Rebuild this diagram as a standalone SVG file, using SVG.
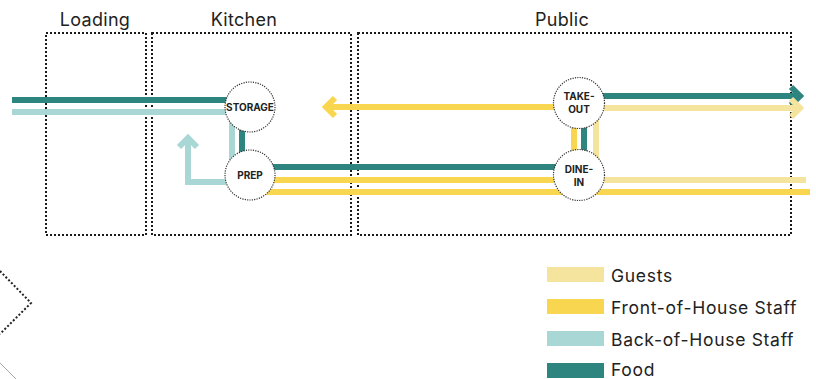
<svg xmlns="http://www.w3.org/2000/svg" width="816" height="379" viewBox="0 0 816 379">
<style>
.zone{fill:none;stroke:#1a1a1a;stroke-width:2;stroke-dasharray:2 2}
.zl{font-family:Inter,"Liberation Sans",sans-serif;font-size:18px;letter-spacing:0.3px;fill:#222;text-anchor:middle}
.food{stroke:#2E8580;stroke-width:6;fill:none}
.boh{stroke:#A9D7D5;stroke-width:6;fill:none}
.foh{stroke:#F9D650;stroke-width:6;fill:none}
.gst{stroke:#F5E49E;stroke-width:6;fill:none}
.node circle{fill:#fff;stroke:#333;stroke-width:1.2;stroke-dasharray:1.2 1.2}
.node text{font-family:Inter,"Liberation Sans",sans-serif;font-weight:bold;font-size:10px;fill:#222;text-anchor:middle}
.lg{font-family:Inter,"Liberation Sans",sans-serif;font-size:17.5px;letter-spacing:0.7px;fill:#222}
</style>
<g id="zones">
<rect class="zone" x="46" y="33" width="100" height="202"/>
<rect class="zone" x="152" y="33" width="199" height="202"/>
<rect class="zone" x="358" y="33" width="433" height="202"/>
<text class="zl" x="95" y="26">Loading</text>
<text class="zl" x="244" y="26">Kitchen</text>
<text class="zl" x="562" y="26">Public</text>
</g>
<g id="connectors">
<line class="food" x1="12" y1="100" x2="240" y2="100"/>
<line class="boh" x1="12" y1="112" x2="232" y2="112"/>
<polyline class="boh" points="232,112 232,160"/>
<line class="food" x1="242" y1="120" x2="242" y2="160"/>
<polyline class="boh" points="235,182 188,182 188,140"/>
<polyline class="boh" points="179,147 188,138 197,147"/>
<line class="food" x1="260" y1="167" x2="570" y2="167"/>
<line class="foh" x1="260" y1="180" x2="570" y2="180"/>
<line class="foh" x1="260" y1="192" x2="810" y2="192"/>
<line class="gst" x1="590" y1="180" x2="806" y2="180"/>
<line class="foh" x1="570" y1="107" x2="328" y2="107"/>
<polyline class="foh" points="335,98 326,107 335,116"/>
<line class="food" x1="590" y1="96" x2="799" y2="96"/>
<polyline class="food" points="791,87 800,96 791,105"/>
<line class="gst" x1="590" y1="108" x2="799" y2="108"/>
<polyline class="gst" points="791,99 800,108 791,117"/>
<line class="foh" x1="574" y1="115" x2="574" y2="165"/>
<line class="food" x1="584" y1="115" x2="584" y2="165"/>
<line class="gst" x1="596" y1="115" x2="596" y2="165"/>
</g>
<g id="storage" class="node"><circle cx="250" cy="107" r="25"/><text x="250" y="110.5" font-size="9">STORAGE</text></g>
<g id="prep" class="node"><circle cx="250" cy="175" r="25"/><text x="250" y="178.5">PREP</text></g>
<g id="takeout" class="node"><circle cx="579" cy="103" r="25.5"/><text x="579" y="100">TAKE-</text><text x="579" y="113">OUT</text></g>
<g id="dinein" class="node"><circle cx="579" cy="175" r="25.5"/><text x="579" y="173">DINE-</text><text x="579" y="186">IN</text></g>
<g id="decor">
<polyline points="0,271 31,303 0,334" fill="none" stroke="#222" stroke-width="2" stroke-dasharray="2 2"/>
<line x1="0" y1="363" x2="16" y2="379" stroke="#aaa" stroke-width="1"/>
</g>
<g id="legend">
<rect x="547" y="267" width="57" height="15" fill="#F5E49E"/>
<rect x="547" y="299" width="57" height="15" fill="#F9D650"/>
<rect x="547" y="331" width="57" height="15" fill="#A9D7D5"/>
<rect x="547" y="363" width="57" height="15" fill="#2E8580"/>
<text class="lg" x="611" y="282">Guests</text>
<text class="lg" x="611" y="314">Front-of-House Staff</text>
<text class="lg" x="611" y="346">Back-of-House Staff</text>
<text class="lg" x="611" y="376">Food</text>
</g>
</svg>
